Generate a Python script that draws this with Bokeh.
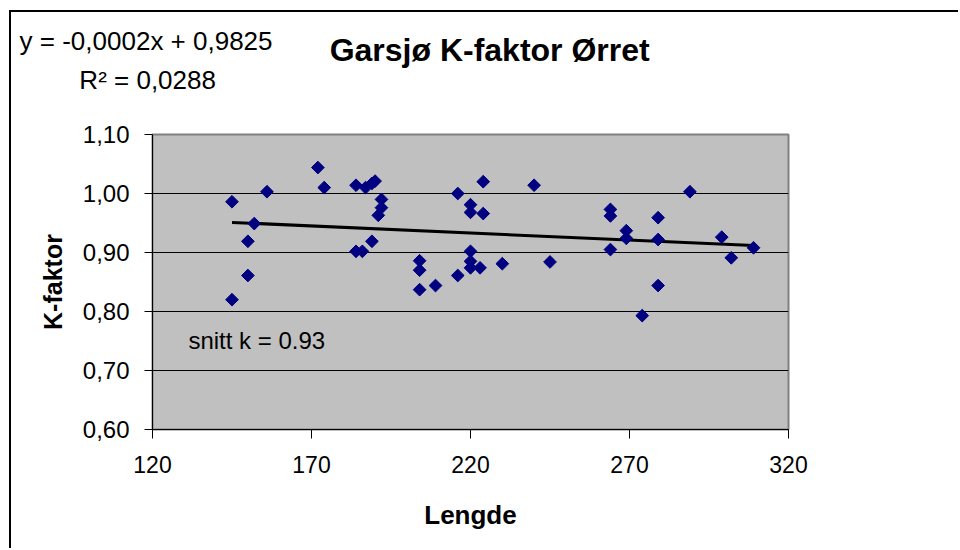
import numpy as np
from bokeh.plotting import figure
from bokeh.models import Range1d, FixedTicker, CustomJSTickFormatter, Label
from bokeh.embed import file_html
from bokeh.resources import INLINE

# ---- data ----
lengde = [145, 145, 150, 150, 152, 156, 172, 174, 184, 187, 189, 190, 192, 192, 191, 189,
          184, 186, 204, 204, 204, 209, 216, 220, 220, 224, 224, 220, 220, 220, 216, 223,
          230, 240, 245, 264, 264, 264, 269, 269, 279, 279, 279, 274, 289, 299, 302, 309]
k_faktor = [0.986, 0.820, 0.919, 0.861, 0.949, 1.003, 1.044, 1.010, 1.014, 1.010, 1.017, 1.021,
            0.990, 0.976, 0.963, 0.919, 0.902, 0.902, 0.886, 0.870, 0.837, 0.844, 1.000, 0.981,
            0.968, 1.020, 0.966, 0.902, 0.885, 0.874, 0.861, 0.874, 0.881, 1.014, 0.884, 0.973,
            0.962, 0.905, 0.937, 0.924, 0.959, 0.922, 0.844, 0.793, 1.003, 0.926, 0.891, 0.908]
x_ticks = [120, 170, 220, 270, 320]
y_ticks = [0.60, 0.70, 0.80, 0.90, 1.00, 1.10]

title_text = "Garsjø K-faktor  Ørret"
eq_text = "y = -0,0002x + 0,9825"
r2_text = "R² = 0,0288"
mean_text = "snitt k = 0.93"

FONT = "Liberation Sans"

p = figure(width=949, height=538, output_backend="svg", toolbar_location=None,
           x_range=Range1d(120, 320), y_range=Range1d(0.60, 1.10),
           min_border_left=141, min_border_right=172, min_border_top=122, min_border_bottom=121)
p.title = None
# chart-area border (left and top edges, as in the reference)
p.styles = {"margin-left": "9px", "margin-top": "10px",
            "border-left": "2px solid black", "border-top": "2px solid black"}

p.background_fill_color = "#C0C0C0"
p.border_fill_color = "white"
p.outline_line_color = "#808080"
p.outline_line_width = 2

# axes
p.xaxis.ticker = FixedTicker(ticks=x_ticks)
p.yaxis.ticker = FixedTicker(ticks=y_ticks)
p.yaxis.formatter = CustomJSTickFormatter(code="return tick.toFixed(2).replace('.', ',');")
for ax in (p.xaxis, p.yaxis):
    ax.axis_line_color = "black"
    ax.axis_line_width = 1
    ax.major_tick_line_color = "black"
    ax.major_tick_in = 0
    ax.minor_tick_line_color = None
    ax.major_label_text_font = FONT
    ax.major_label_text_color = "black"
    ax.axis_label_text_font = FONT
    ax.axis_label_text_font_style = "bold"
    ax.axis_label_text_color = "black"
p.xaxis.major_label_text_font_size = "23px"
p.yaxis.major_label_text_font_size = "24px"
p.xaxis.axis_label_text_font_size = "26px"
p.yaxis.axis_label_text_font_size = "25px"
p.xaxis.major_tick_out = 9
p.yaxis.major_tick_out = 8
p.xaxis.major_label_standoff = 17
p.yaxis.major_label_standoff = 15
p.xaxis.axis_label = "Lengde"
p.yaxis.axis_label = "K-faktor"
p.xaxis.axis_label_standoff = 24
p.yaxis.axis_label_standoff = 13

p.xgrid.grid_line_color = None
p.ygrid.ticker = FixedTicker(ticks=y_ticks)
p.ygrid.grid_line_color = "black"
p.ygrid.grid_line_width = 1

# trend line (least squares fit of the data)
slope, intercept = np.polyfit(lengde, k_faktor, 1)
x_fit = [min(lengde), max(lengde)]
y_fit = [slope * v + intercept for v in x_fit]
p.line(x_fit, y_fit, line_color="black", line_width=3)

# points
p.scatter(lengde, k_faktor, marker="square", angle=np.pi / 4, size=9,
          fill_color="#000080", line_color="#000080")

# texts above the plot area (placed in the top panel so they are not clipped)
p.add_layout(Label(x=175.7, y=1.244, text=title_text, text_font=FONT, text_font_style="bold",
                   text_font_size="32px", text_baseline="middle", text_color="black"), "above")
p.add_layout(Label(x=78.2, y=1.258, text=eq_text, text_font=FONT,
                   text_font_size="26px", text_baseline="middle", text_color="black"), "above")
p.add_layout(Label(x=97.0, y=1.193, text=r2_text, text_font=FONT,
                   text_font_size="26px", text_baseline="middle", text_color="black"), "above")
p.add_layout(Label(x=131.3, y=0.751, text=mean_text, text_font=FONT,
                   text_font_size="24px", text_baseline="middle", text_color="black"))

open("out.html", "w").write(file_html(p, INLINE))
